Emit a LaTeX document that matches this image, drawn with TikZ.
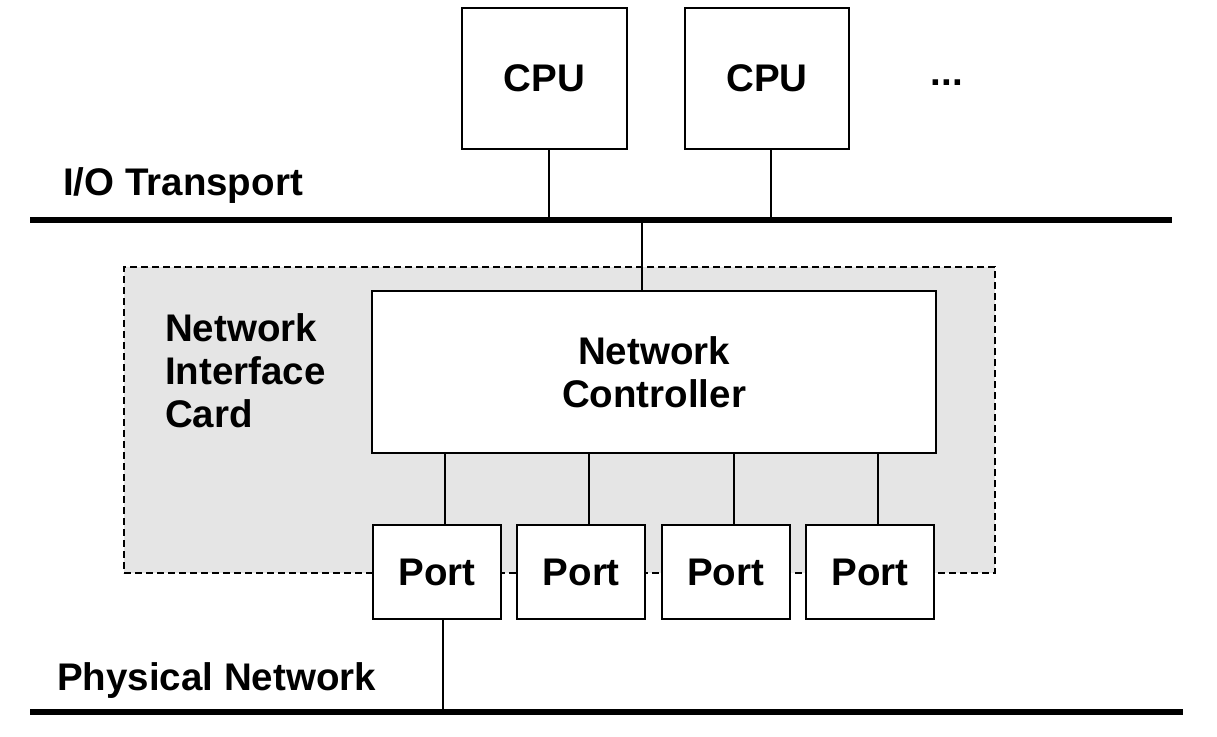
\documentclass[tikz,border=0pt]{standalone}
\usepackage{fontspec}
\setmainfont{Liberation Sans}
\usetikzlibrary{calc}

\definecolor{cardgray}{RGB}{229,229,229}

\begin{document}
\begin{tikzpicture}[x=1pt,y=-1pt,
  font=\fontsize{38.5}{43}\selectfont\bfseries,
  box/.style={draw,line width=2.2pt,fill=white,inner sep=0pt},
  wire/.style={line width=2pt},
  bus/.style={line width=6pt},
  card/.style={draw,dash pattern=on 7pt off 4pt,line width=2.2pt,fill=cardgray,inner sep=0pt}]
\useasboundingbox (0,0) rectangle (1217,736);
% Bus end points
\coordinate (ioL) at (30,220);
\coordinate (ioR) at (1172,220);
\coordinate (netL) at (30,712);
\coordinate (netR) at (1183,712);

% Network interface card (first, so the ports sit on its edge)
\node[card,minimum width=871pt,minimum height=306pt] (nic) at (559.5,420) {};
\node[anchor=base west,align=left,inner sep=0pt] (niclabel) at (165,427) {Network\\Interface\\Card};

% CPUs and the dots
\node[box,minimum width=165pt,minimum height=141pt] (cpuA) at (544.5,78.5) {CPU};
\node[box,minimum width=164pt,minimum height=141pt] (cpuB) at (767,78.5) {CPU};
\node[anchor=base,inner sep=0pt] (more) at (947,85) {...};

% Controller and ports
\node[box,minimum width=564pt,minimum height=162pt,align=center] (ctrl) at (654,372) {Network\\Controller};
\foreach \i in {1,...,4}
  \node[box,minimum width=128pt,minimum height=94pt] (port\i) at ({437+144.3*(\i-1)},572) {Port};

% Bus labels
\node[anchor=base west,inner sep=0pt] (iolabel) at (63,195) {I/O Transport};
\node[anchor=base west,inner sep=0pt] (netlabel) at (57,690) {Physical Network};

% Connectors
\draw[wire] ([xshift=4pt]cpuA.south) -- ([xshift=4pt]cpuA.south |- ioL);
\draw[wire] ([xshift=4pt]cpuB.south) -- ([xshift=4pt]cpuB.south |- ioL);
\draw[wire] ([xshift=-12pt]ctrl.north) -- ([xshift=-12pt]ctrl.north |- ioL);
\foreach \i in {1,...,4}
  \draw[wire] ([xshift=8pt]port\i.north) -- ([xshift=8pt]port\i.north |- ctrl.south);
\draw[wire] ([xshift=6pt]port1.south) -- ([xshift=6pt]port1.south |- netL);

% Buses
\draw[bus] (ioL) -- (ioR);
\draw[bus] (netL) -- (netR);
\end{tikzpicture}
\end{document}
